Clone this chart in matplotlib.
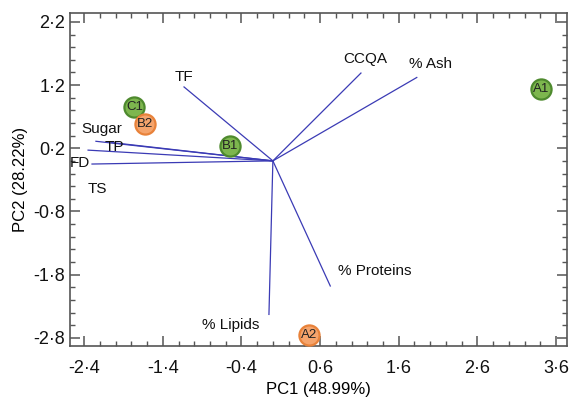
import numpy as np
import matplotlib
matplotlib.use("Agg")
import matplotlib.pyplot as plt
from matplotlib.ticker import MultipleLocator, FixedLocator, FuncFormatter

plt.rcParams['font.family'] = ['Liberation Sans Narrow', 'Liberation Sans', 'DejaVu Sans']

# %% Dados
# loadings (vetores)
var_names = ["TF", "CCQA", "% Ash", "Sugar", "TP", "FD", "TS", "% Proteins", "% Lipids"]
var_x = [-1.13, 1.12, 1.83, -2.25, -2.05, -2.35, -2.30, 0.73, -0.05]
var_y = [1.17, 1.39, 1.32, 0.31, 0.29, 0.17, -0.05, -1.98, -2.43]
label_x = [-1.13, 1.18, 2.01, -2.17, -2.01, -2.45, -2.23, 1.30, -0.54]
label_y = [1.32, 1.61, 1.54, 0.50, 0.22, -0.04, -0.45, -1.75, -2.60]

# scores (amostras)
sample_names = ["A1", "C1", "B2", "B1", "A2"]
sample_x = [3.41, -1.76, -1.62, -0.54, 0.46]
sample_y = [1.13, 0.86, 0.58, 0.23, -2.76]
sample_group = ["g", "g", "o", "g", "o"]

x_ticks = [-2.4, -1.4, -0.4, 0.6, 1.6, 2.6, 3.6]
y_ticks = [-2.8, -1.8, -0.8, 0.2, 1.2, 2.2]

# %% Grafico
fill = {"g": "#7db64e", "o": "#f5a46c"}
edge = {"g": "#4e8a2e", "o": "#e8823a"}

fig = plt.figure(figsize=(5.7, 4.03), dpi=100)
ax = fig.add_axes([0.1228, 0.1414, 0.8719, 0.8263])

for vx, vy in zip(var_x, var_y):
    ax.plot([0, vx], [0, vy], color="#3b3bb5", lw=0.9, zorder=2)

for name, lx, ly in zip(var_names, label_x, label_y):
    ax.text(lx, ly, name, fontsize=11, ha="center", va="center", color="#111111", zorder=3)

for name, sx, sy, g in zip(sample_names, sample_x, sample_y, sample_group):
    ax.plot(sx, sy, "o", ms=14.5, mfc=fill[g], mec=edge[g], mew=1.6, zorder=4)
    ax.text(sx, sy, name, fontsize=9.5, ha="center", va="center", color="#222222", zorder=5)

ax.set_xlim(-2.58, 3.74)
ax.set_ylim(-2.93, 2.34)

ax.xaxis.set_major_locator(FixedLocator(x_ticks))
ax.yaxis.set_major_locator(FixedLocator(y_ticks))
ax.xaxis.set_minor_locator(MultipleLocator(0.2))
ax.yaxis.set_minor_locator(MultipleLocator(0.2))
fmt = FuncFormatter(lambda v, p: f"{v:.1f}".replace(".", "·"))
ax.xaxis.set_major_formatter(fmt)
ax.yaxis.set_major_formatter(fmt)

ax.tick_params(which="both", direction="in", top=True, right=True, colors="#555555",
               labelcolor="#111111", labelsize=13)
ax.tick_params(which="major", length=7, width=1.1)
ax.tick_params(which="minor", length=3.5, width=1.0)
ax.tick_params(axis="x", pad=10)
for s in ax.spines.values():
    s.set_color("#555555")
    s.set_linewidth(1.2)

ax.set_xlabel("PC1 (48.99%)", fontsize=12, labelpad=4)
ax.set_ylabel("PC2 (28.22%)", fontsize=12, labelpad=4)

fig.savefig("out.png", dpi=100)
